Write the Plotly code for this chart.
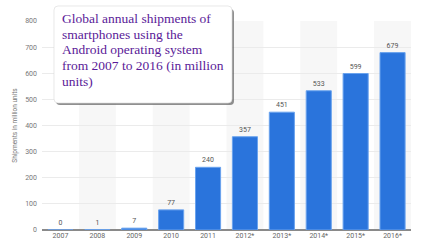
import plotly.graph_objects as go

years = ["2007", "2008", "2009", "2010", "2011", "2012*", "2013*", "2014*", "2015*", "2016*"]
shipments = [0, 1, 7, 77, 240, 357, 451, 533, 599, 679]
y_ticks = [0, 100, 200, 300, 400, 500, 600, 700, 800]
title_lines = ["Global annual shipments of", "smartphones using the",
               "Android operating system", "from 2007 to 2016 (in million", "units)"]

W, H = 422, 250
ML, MR, MT, MB = 42, 11, 21, 20
PW, PH = W - ML - MR, H - MT - MB

def px(x):
    return (x - ML) / PW

def py(y):
    return (H - MB - y) / PH

fig = go.Figure()
fig.add_trace(go.Bar(
    x=list(range(len(years))), y=shipments,
    marker=dict(color="#2a74dc", line=dict(color="#6aa3ee", width=1)),
    text=[str(v) for v in shipments], textposition="outside",
    textfont=dict(family="Roboto, sans-serif", size=7, color="#555555"),
    cliponaxis=False, width=0.68,
))

shapes = []
for i in range(1, len(years), 2):
    shapes.append(dict(type="rect", xref="x", yref="paper", x0=i - 0.5, x1=i + 0.5,
                       y0=0, y1=1, fillcolor="#f7f7f7", line=dict(width=0), layer="below"))

def rounded(x0, y0, x1, y1, r):
    rx, ry = r / PW, r / PH
    X0, X1 = px(x0), px(x1)
    Yt, Yb = py(y0), py(y1)
    return (f"M {X0+rx},{Yt} L {X1-rx},{Yt} Q {X1},{Yt} {X1},{Yt-ry} "
            f"L {X1},{Yb+ry} Q {X1},{Yb} {X1-rx},{Yb} L {X0+rx},{Yb} "
            f"Q {X0},{Yb} {X0},{Yb+ry} L {X0},{Yt-ry} Q {X0},{Yt} {X0+rx},{Yt} Z")

shapes.append(dict(type="path", xref="paper", yref="paper", path=rounded(56, 9, 234, 105, 4),
                   fillcolor="rgba(70,70,70,0.6)", line=dict(width=0), layer="above"))
shapes.append(dict(type="path", xref="paper", yref="paper", path=rounded(54, 6, 232, 103, 4),
                   fillcolor="white", line=dict(color="#d8d8d8", width=0.6), layer="above"))

annotations = []
for i, line in enumerate(title_lines):
    annotations.append(dict(text=line, xref="paper", yref="paper", x=px(59.5),
                            y=py(19 + 15.5 * i), xanchor="left", yanchor="middle",
                            align="left", showarrow=False,
                            font=dict(family="Liberation Serif, Times New Roman, serif",
                                      size=13.5, color="#5a1a98")))

fig.update_layout(
    width=W, height=H,
    margin=dict(l=ML, r=MR, t=MT, b=MB),
    paper_bgcolor="white", plot_bgcolor="white",
    showlegend=False,
    shapes=shapes,
    xaxis=dict(tickmode="array", tickvals=list(range(len(years))), ticktext=years,
               range=[-0.5, len(years) - 0.5], showgrid=False, zeroline=False,
               tickfont=dict(family="Roboto, sans-serif", size=7, color="#666666"),
               ticks="", showline=False),
    yaxis=dict(range=[0, 800], tickvals=y_ticks, showgrid=True, gridcolor="#ebebeb",
               gridwidth=1, zeroline=True, zerolinecolor="#8a8a8a", zerolinewidth=1.5,
               tickfont=dict(family="Roboto, sans-serif", size=7, color="#777777"),
               ticks="", ticklabelstandoff=4,
               title=dict(text="Shipments in million units", standoff=6,
                          font=dict(family="Roboto, sans-serif", size=6.5, color="#777777"))),
    annotations=annotations,
    bargap=0.32,
)

fig.write_html("out.html")
